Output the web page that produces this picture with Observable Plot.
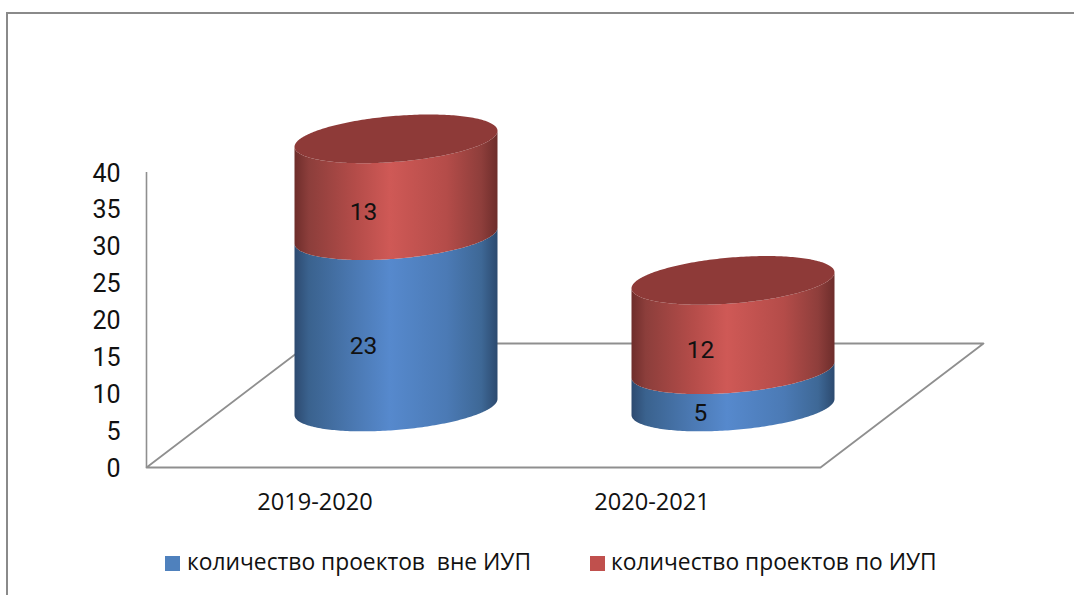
<!DOCTYPE html>
<html lang="ru">
<head>
<meta charset="utf-8">
<script src="https://cdn.jsdelivr.net/npm/d3@7"></script>
<script src="https://cdn.jsdelivr.net/npm/@observablehq/plot@0.6"></script>
<style>
html,body{margin:0;padding:0;background:#fff;overflow:hidden}
#page{position:relative;width:1074px;height:595px;overflow:hidden}
#frame{position:absolute;left:6px;top:12px;right:0;bottom:-5px;border-left:2px solid #8a8a8a;border-top:2px solid #8a8a8a}
#chart{position:absolute;left:0;top:0}
.lg{position:absolute;top:546px;font:22.8px "Open Sans",sans-serif;color:#111;white-space:pre;line-height:32px}
.sw{position:absolute;top:556px;width:15px;height:15px}
</style>
</head>
<body>
<div id="page">
  <div id="frame"></div>
  <div id="chart"></div>
  <div class="sw" style="left:165px;background:#4f81bd"></div>
  <div class="lg" id="lg0" style="left:187px"></div>
  <div class="sw" style="left:590px;background:#c0504d"></div>
  <div class="lg" id="lg1" style="left:611px"></div>
</div>
<script>
const categories = ["2019-2020", "2020-2021"];
const outsideIUP = [23, 5];
const byIUP = [13, 12];
const seriesNames = ["количество проектов  вне ИУП", "количество проектов по ИУП"];
const yTicks = [0, 5, 10, 15, 20, 25, 30, 35, 40];

document.getElementById("lg0").textContent = seriesNames[0];
document.getElementById("lg1").textContent = seriesNames[1];

// Projection constants of the pseudo-3D floor, in scale units
const pxX = 337, pxY = 7.375;
const depthX = 163 / pxX, depthY = 124 / pxY;
const halfW = 101.5 / pxX;
const minor = 23 / pxY, shear = 8 / pxY;
const baseX = depthX / 2, baseY = 60 / pxY, stretch = 1.01;
const labelDx = -33 / pxX, labelDy = 24.5 / pxY;

const level = v => baseY + v * stretch;
const us = d3.range(0, 121).map(i => Math.cos(Math.PI * i / 120));
const arc = (c, u, side) => level(c) + shear * u + side * minor * Math.sqrt(Math.max(0, 1 - u * u));

function band(i, from, to) {
  const cx = i + 0.5 + baseX;
  return us.map(u => ({ key: categories[i], x: cx + halfW * u, lo: arc(from, u, -1), hi: arc(to, u, -1) }));
}
const lowerBody = categories.flatMap((c, i) => band(i, 0, outsideIUP[i]));
const upperBody = categories.flatMap((c, i) => band(i, outsideIUP[i], outsideIUP[i] + byIUP[i]));
const caps = categories.flatMap((c, i) => {
  const t = outsideIUP[i] + byIUP[i], cx = i + 0.5 + baseX;
  return us.map(u => ({ key: c, x: cx + halfW * u, lo: arc(t, u, -1), hi: arc(t, u, 1) }));
});
const labels = categories.flatMap((c, i) => [
  { x: i + 0.5 + baseX + labelDx, y: level(outsideIUP[i] / 2) - labelDy, t: outsideIUP[i] },
  { x: i + 0.5 + baseX + labelDx, y: level(outsideIUP[i] + byIUP[i] / 2) - labelDy, t: byIUP[i] }
]);
const floor = [
  { x: 0, y: 0 }, { x: 2, y: 0 }, { x: 2 + depthX, y: depthY }, { x: depthX, y: depthY }, { x: 0, y: 0 }
];

function gradient(id, stops) {
  return `<linearGradient id="${id}" x1="0" x2="1" y1="0" y2="0">` +
    stops.map(([o, c]) => `<stop offset="${o}" stop-color="${c}"/>`).join("") + `</linearGradient>`;
}
const defs = () => {
  const g = document.createElementNS("http://www.w3.org/2000/svg", "defs");
  g.innerHTML =
    gradient("gBlue", [[0, "#2d4a70"], [0.07, "#3a628e"], [0.3, "#4b79b3"], [0.47, "#5689cd"], [0.75, "#4b7ab5"], [0.92, "#3e6896"], [1, "#2c4a6f"]]) +
    gradient("gRed", [[0, "#6e2d2b"], [0.07, "#8c3e3b"], [0.3, "#b44c49"], [0.47, "#cf5956"], [0.75, "#b44c49"], [0.92, "#8e3e3b"], [1, "#6d2d2b"]]);
  return g;
};

const plot = Plot.plot({
  width: 1074, height: 595,
  marginLeft: 146, marginRight: 254, marginTop: 172, marginBottom: 128,
  style: { background: "transparent", overflow: "visible", fontFamily: "Roboto" },
  x: { domain: [0, 2] },
  y: { domain: [0, 40] },
  marks: [
    defs,
    Plot.line(floor, { x: "x", y: "y", stroke: "#8f8f8f", strokeWidth: 1.8 }),
    Plot.ruleX([0], { y1: 0, y2: 40, stroke: "#8f8f8f", strokeWidth: 1.6 }),
    Plot.area(lowerBody, { x1: "x", y1: "lo", y2: "hi", z: "key", fill: "url(#gBlue)" }),
    Plot.area(upperBody, { x1: "x", y1: "lo", y2: "hi", z: "key", fill: "url(#gRed)" }),
    Plot.area(caps, { x1: "x", y1: "lo", y2: "hi", z: "key", fill: "#8e3a38" }),
    Plot.axisY({ ticks: yTicks, tickSize: 0, tickPadding: 26, label: null, fontSize: 25, fill: "#111", dy: 1 }),
    Plot.axisX({ ticks: [0.5, 1.5], tickFormat: v => categories[v - 0.5], tickSize: 0, tickPadding: 26, label: null, fontSize: 23.6, fill: "#111", fontFamily: "Open Sans" }),
    Plot.text(labels, { x: "x", y: "y", text: "t", fontSize: 24.5, fill: "#111" })
  ]
});
document.getElementById("chart").appendChild(plot);
</script>
</body>
</html>
